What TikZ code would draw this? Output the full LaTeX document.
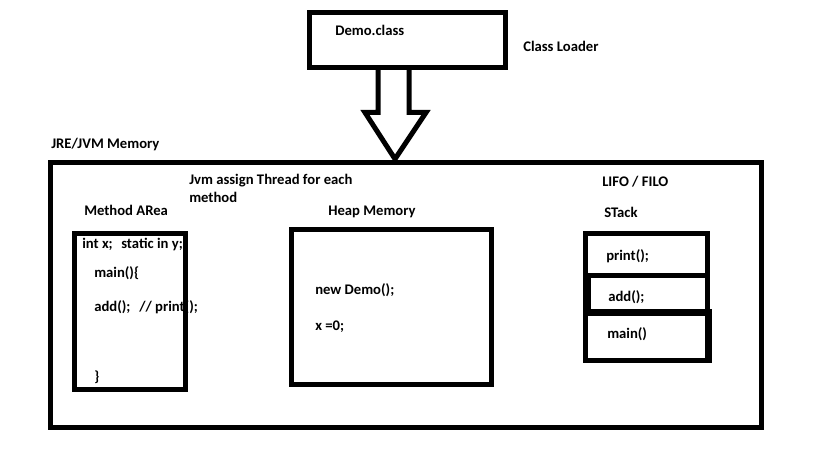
\documentclass[tikz,border=0pt]{standalone}
\usepackage{fontspec}
\setmainfont{Carlito}
\begin{document}
\begin{tikzpicture}[x=0.75pt,y=-0.75pt,
  box/.style={draw=black,line width=3.75pt,inner sep=0pt,rectangle},
  txt/.style={anchor=base west,inner sep=0pt,font=\fontsize{11}{13}\selectfont\bfseries}]
\useasboundingbox (0,0) rectangle (819,460);
% texts (drawn first so box borders overlay them)
\node[txt] (tdemo) at (335,36) {Demo.class};
\node[txt] (tloader) at (523,52) {Class Loader};
\node[txt] (tjre) at (51,149) {JRE/JVM Memory};
\node[txt] (tjvm1) at (189,185) {Jvm assign Thread for each};
\node[txt] (tjvm2) at (189,203) {method};
\node[txt] (tmarea) at (84,216) {Method ARea};
\node[txt] (tint) at (82,248) {int x;};
\node[txt] (tstatic) at (121,248) {static in y;};
\node[txt] (tmain) at (94,277) {main()\{};
\node[txt] (tadd) at (94,311) {add();};
\node[txt] (tprint) at (139,311) {// print();};
\node[txt] (tclose) at (94,381) {\}};
\node[txt] (theap) at (328,215) {Heap Memory};
\node[txt] (tnew) at (315,294) {new Demo();};
\node[txt] (tx) at (315,330) {x =0;};
\node[txt] (tlifo) at (602,187) {LIFO / FILO};
\node[txt] (tstack) at (604,218) {STack};
\node[txt] (sprint) at (606,261) {print();};
\node[txt] (sadd) at (608,301) {add();};
\node[txt] (smain) at (607,338) {main()};
% boxes
\node[box,minimum width=147pt,minimum height=41.6pt] (demo) at (407,40.25) {};
\node[box,minimum width=533.6pt,minimum height=198.75pt] (jvm) at (406.25,295) {};
\node[box,minimum width=83.25pt,minimum height=117pt] (marea) at (130.25,311.6) {};
\node[box,minimum width=150pt,minimum height=116.25pt] (heap) at (391.8,306.7) {};
\node[box,minimum width=91.5pt,minimum height=95.6pt] (stack) at (646.5,296.75) {};
% stack dividers and thickened borders
\draw[line width=3.75pt] (583,275.5) -- (710,275.5);
\draw[line width=5.25pt] (583,312.5) -- (710,312.5);
\fill[black] (583,275) rectangle (591,312);
\fill[black] (705,309) rectangle (712,363);
% block arrow from class loader into JVM memory
\coordinate (a1) at (378,68);
\coordinate (a2) at (378,112.5);
\coordinate (a3) at (365,112.5);
\coordinate (tip) at (395,159);
\coordinate (a5) at (426,112.5);
\coordinate (a6) at (409,112.5);
\coordinate (a7) at (409,68);
\draw[line width=3.75pt,line join=miter] (a1) -- (a2) -- (a3) -- (tip) -- (a5) -- (a6) -- (a7);
\end{tikzpicture}
\end{document}
